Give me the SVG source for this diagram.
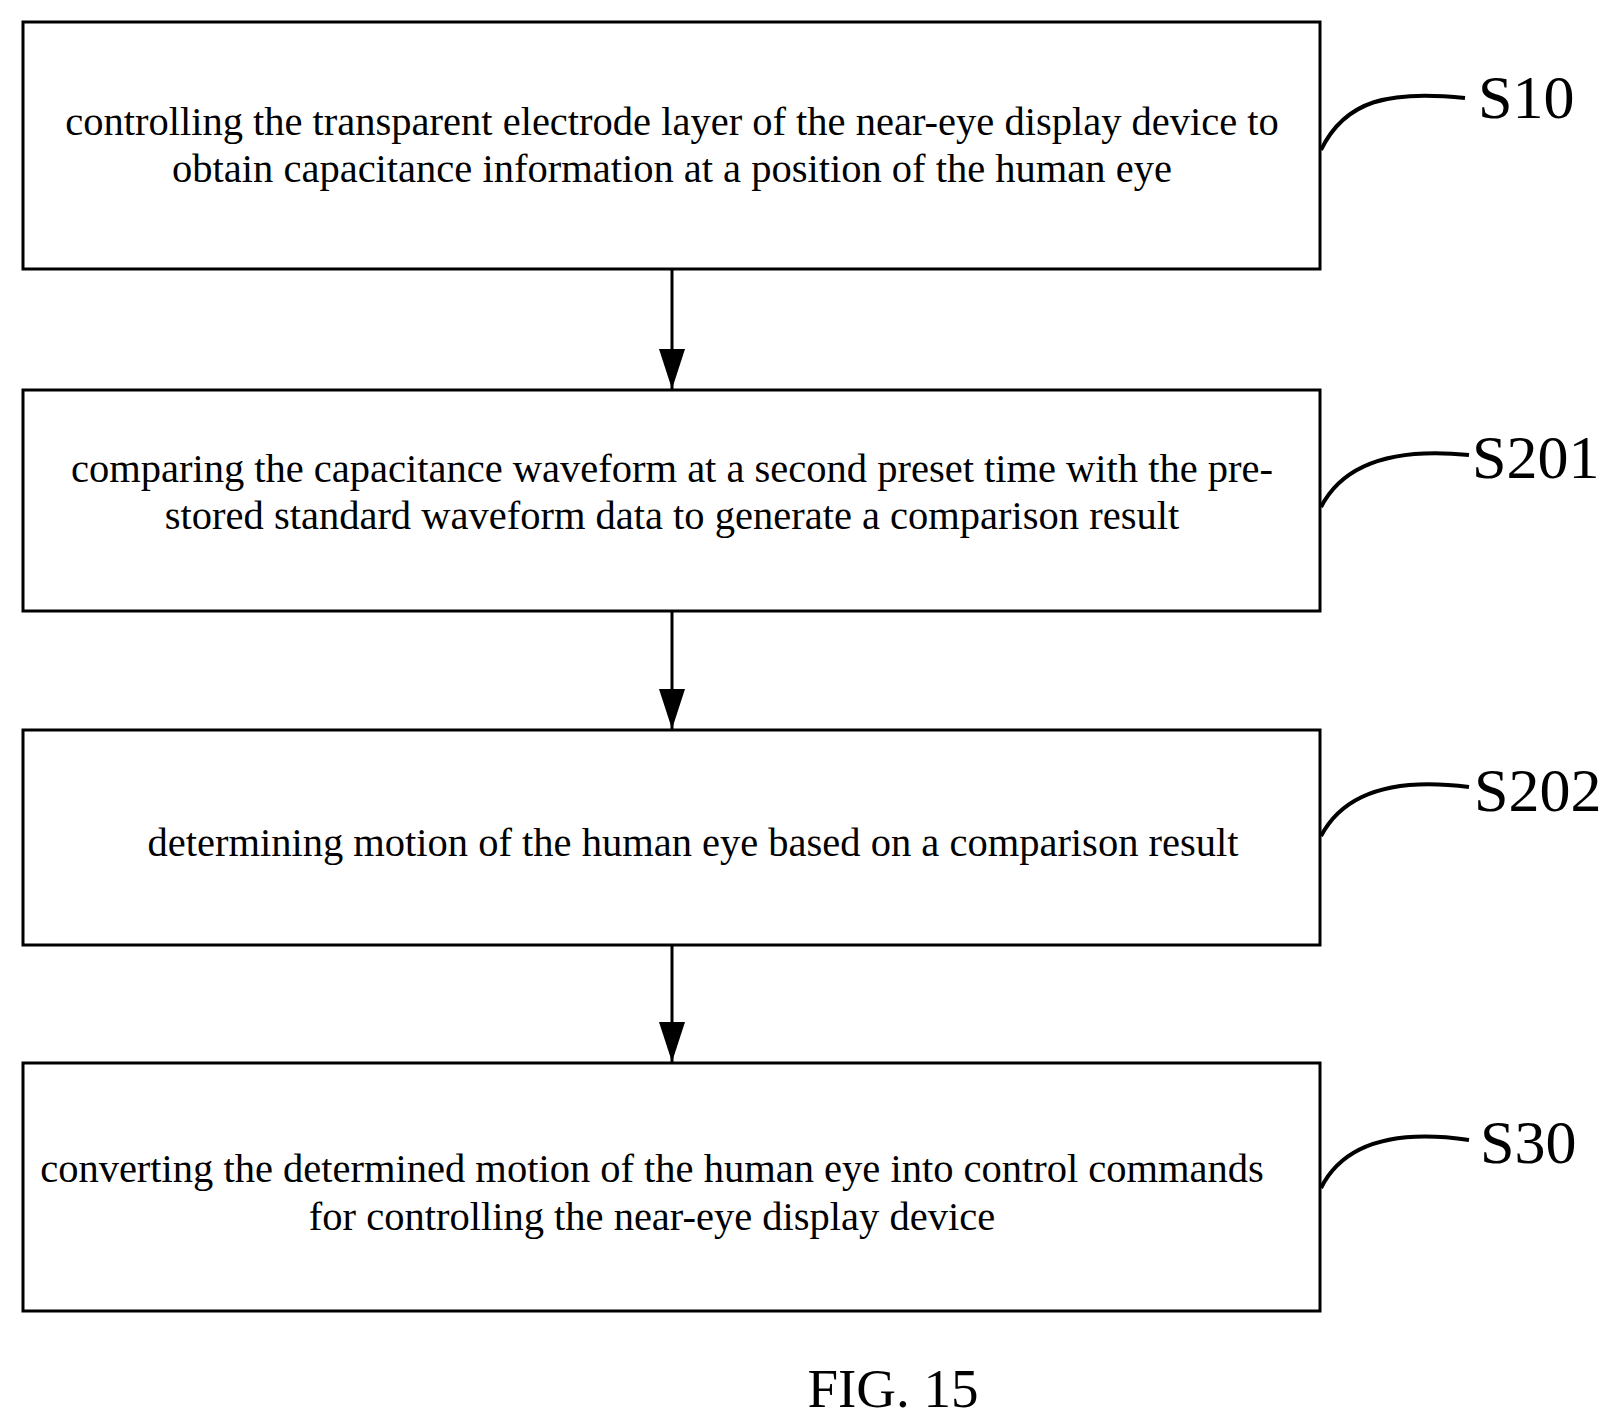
<svg xmlns="http://www.w3.org/2000/svg" width="1619" height="1426" viewBox="0 0 1619 1426">
<style>
.b{fill:#fff;stroke:#000;stroke-width:3}
.t{font-family:"Liberation Serif",serif;font-size:40.5px;text-anchor:middle}
.l{font-family:"Liberation Serif",serif;font-size:62px}
.c{fill:none;stroke:#000;stroke-width:4}
</style>
<defs>
<marker id="d" markerWidth="40" markerHeight="26" refX="40" refY="13" orient="auto" markerUnits="userSpaceOnUse"><path d="M0,0 L40,13 L0,26 Z" fill="#000"/></marker></defs>
<rect width="1619" height="1426" fill="#fff"/>
<g id="n1"><rect class="b" x="23" y="22" width="1297" height="247"/><text class="t" x="672" y="135">controlling the transparent electrode layer of the near-eye display device to</text><text class="t" x="672" y="182">obtain capacitance information at a position of the human eye</text></g>
<g id="n2"><rect class="b" x="23" y="390" width="1297" height="221"/><text class="t" x="672" y="482">comparing the capacitance waveform at a second preset time with the pre-</text><text class="t" x="672" y="529">stored standard waveform data to generate a comparison result</text></g>
<g id="n3"><rect class="b" x="23" y="730" width="1297" height="215"/><text class="t" x="693" y="856">determining motion of the human eye based on a comparison result</text></g>
<g id="n4"><rect class="b" x="23" y="1063" width="1297" height="248"/><text class="t" x="652" y="1182">converting the determined motion of the human eye into control commands</text><text class="t" x="652" y="1230">for controlling the near-eye display device</text></g>
<g id="connectors">
<line x1="672" y1="269" x2="672" y2="389" stroke="#000" stroke-width="3" marker-end="url(#d)"/>
<line x1="672" y1="611" x2="672" y2="729" stroke="#000" stroke-width="3" marker-end="url(#d)"/>
<line x1="672" y1="945" x2="672" y2="1062" stroke="#000" stroke-width="3" marker-end="url(#d)"/>
<path class="c" d="M1321,150 C1345,100 1390,90 1465,98"/>
<path class="c" d="M1321,507 C1345,460 1400,448 1469,455"/>
<path class="c" d="M1321,836 C1345,790 1400,778 1469,787"/>
<path class="c" d="M1321,1188 C1345,1140 1400,1130 1469,1140"/>
</g>
<g id="labels">
<text class="l" x="1478" y="118">S10</text>
<text class="l" x="1472" y="478">S201</text>
<text class="l" x="1474" y="811">S202</text>
<text class="l" x="1480" y="1163">S30</text>
<text x="893" y="1407" font-family="Liberation Serif,serif" font-size="55" text-anchor="middle">FIG. 15</text>
</g>
</svg>
